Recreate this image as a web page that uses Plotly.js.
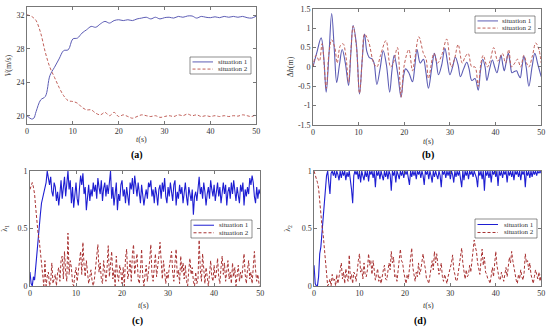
<!DOCTYPE html>
<html><head><meta charset="utf-8">
<script src="https://cdn.plot.ly/plotly-3.0.1.min.js"></script>
<style>html,body{margin:0;padding:0;background:#fff}#chart{width:550px;height:329px}</style>
</head><body><div id="chart"></div>
<script>
// ---- Panel (a): speed V (m/s)
const tA = [0,1,1.5,2,3,4,5,6,7,8,9,10,11,12,13,14,15,16,17,18,19,20,21,22,23,24,25,26,27,28,29,30,31,32,33,34,35,36,37,38,39,40,41,42,43,44,45,46,47,48,49,50];
const vA1 = [20.0,19.6,19.7,20.5,21.9,22.3,24.8,25.8,26.8,27.8,27.9,29.2,29.3,29.9,30.3,30.7,30.6,31.0,31.3,31.1,31.4,31.5,31.4,31.5,31.4,31.6,31.7,31.8,31.6,31.8,31.6,31.75,31.8,31.7,31.9,31.8,31.95,31.95,31.7,31.9,31.8,31.75,31.85,31.75,31.9,31.8,31.9,31.8,31.9,31.75,31.7,31.95];
const vA2 = [32.1,31.9,31.7,31.4,29.9,27.6,25.8,24.6,23.4,22.4,21.8,21.7,21.5,21.0,20.7,20.7,20.3,20.1,20.4,20.0,20.4,19.9,20.1,19.9,19.7,19.9,20.1,20.0,19.9,20.0,19.8,19.9,20.0,19.9,20.1,20.0,20.2,20.0,20.1,19.9,20.0,19.9,20.0,19.9,20.0,19.9,20.0,19.95,20.1,20.0,19.9,20.2];

// ---- Panel (b): altitude deviation Δh (m)
const tB1 = [0,0.8,1.8,2.4,2.9,3.5,4.1,4.7,5.2,5.8,6.4,7.1,7.8,8.3,8.8,9.5,10.2,10.8,11.3,11.8,12.3,13.0,13.4,14.0,14.7,15.4,16.1,16.8,17.3,17.8,18.6,19.3,19.9,20.3,21.0,21.8,22.3,22.8,23.5,24.2,24.7,25.3,26.0,26.6,27.0,27.5,28.2,28.9,29.5,30.0,30.6,31.2,31.8,32.3,33.0,33.7,34.2,34.8,35.5,36.2,36.7,37.2,37.7,38.1,38.7,39.3,39.8,40.3,40.8,41.2,41.6,41.9,42.3,42.8,43.2,43.6,44.1,44.6,45.0,45.4,45.8,46.2,46.7,47.3,48.0,48.6,49.3,50];
const hB1 = [0,0.35,0.75,0.2,-0.65,0.3,1.38,0.4,-0.4,0.05,0.45,0.1,-0.48,0.35,1.07,0.6,-0.7,0.2,0.85,0.4,0.25,0.2,0.1,-0.45,-0.05,0.42,0.05,-0.65,-0.1,0.3,-0.2,-0.78,-0.2,-0.05,-0.15,-0.38,0.0,0.45,0.1,0.2,-0.1,-0.55,-0.05,0.35,0.15,-0.2,0.05,0.48,0.1,-0.2,0.0,0.25,0.05,-0.25,-0.05,0.12,-0.05,-0.35,-0.3,-0.6,-0.1,0.2,0.0,-0.35,-0.05,0.18,0.0,-0.15,0.1,0.3,0.05,-0.1,0.1,0.35,0.1,-0.15,-0.12,-0.1,-0.2,-0.28,0.0,0.28,0.0,-0.5,0.0,0.35,0.05,-0.25];
const tB2 = [0,0.7,1.4,2.0,2.9,3.5,4.1,4.8,5.3,6.0,6.6,7.2,7.8,8.3,8.8,9.5,10.2,10.8,11.3,12.2,13.3,14.0,14.8,16.0,17.0,17.6,18.5,19.3,20.0,21.0,21.8,22.3,23.2,24.2,24.8,25.3,26.5,27.3,28.2,29.3,30.3,31.0,31.8,32.7,33.3,34.0,34.8,35.5,36.2,36.8,37.3,38.2,38.8,39.6,40.5,41.5,42.2,42.9,43.5,44.2,44.8,45.5,46.2,46.8,47.3,48.1,48.8,49.5,50];
const hB2 = [0,0.3,0.15,0.6,-0.55,0.35,0.7,0.5,0.1,0.55,0.6,0.3,-0.4,0.4,1.05,0.55,-0.68,0.2,0.85,0.65,0.1,0.0,0.3,0.68,0.0,0.1,0.5,-0.78,0.05,0.45,-0.1,0.2,0.78,0.35,0.2,-0.3,0.35,0.1,0.3,0.72,0.0,0.2,0.58,0.1,0.25,0.35,0.0,0.0,-0.5,0.1,0.3,0.0,0.15,0.5,0.15,0.35,0.1,0.45,0.0,0.1,0.2,0.0,0.3,0.1,0.0,0.3,0.62,0.45,0.1];

// ---- Panels (c),(d): sampled every DT seconds from t=0
const DT = 0.25;
const lamC1 = [0.12,0.02,0.0,0.08,0.05,0.18,0.3,0.42,0.5,0.62,0.72,0.76,0.8,0.84,0.9,1.0,0.94,0.88,0.95,0.82,0.78,0.9,0.86,0.74,0.82,0.7,0.8,0.92,0.76,0.85,0.95,0.78,0.88,1.0,0.84,0.92,0.72,0.86,0.68,0.82,0.9,0.76,0.7,0.85,0.96,0.88,0.98,0.8,0.86,0.66,0.78,0.88,0.74,0.84,0.78,0.9,0.82,0.88,0.76,0.94,0.86,0.8,0.92,0.74,0.85,0.9,0.78,0.88,0.8,0.92,1.0,0.76,0.86,0.7,0.84,0.9,0.66,0.8,0.74,0.88,0.92,0.78,0.84,0.72,0.86,0.8,0.7,0.9,0.84,0.94,0.8,0.96,0.86,0.78,0.9,0.82,0.72,0.88,0.8,0.7,0.78,0.84,0.76,0.9,0.86,0.92,0.78,0.84,0.72,0.86,0.8,0.7,0.84,0.88,0.76,0.9,0.82,0.94,0.78,0.72,0.86,0.78,0.9,0.8,0.74,0.88,0.92,0.7,0.82,0.76,0.88,0.8,0.86,0.72,0.84,0.9,0.78,0.7,0.86,0.8,0.74,0.84,0.62,0.78,0.82,0.74,0.88,0.95,0.8,0.86,0.76,0.9,0.82,0.7,0.8,0.86,0.76,0.92,0.84,0.78,0.88,0.74,0.82,0.9,0.78,0.86,0.72,0.84,0.9,0.8,0.88,0.7,0.82,0.86,0.76,0.9,0.8,0.92,0.84,0.74,0.86,0.8,0.72,0.88,0.82,0.9,0.7,0.84,0.78,0.86,0.8,0.94,0.88,0.96,0.9,0.78,0.72,0.86,0.76,0.84,0.8];
const lamC2 = [0.84,0.88,0.9,0.86,0.8,0.68,0.55,0.46,0.4,0.3,0.2,0.08,0.0,0.22,0.0,0.08,0.12,0.0,0.04,0.2,0.02,0.06,0.1,0.0,0.12,0.16,0.04,0.22,0.26,0.06,0.3,0.12,0.04,0.46,0.1,0.22,0.16,0.02,0.0,0.1,0.16,0.04,0.12,0.24,0.3,0.1,0.38,0.18,0.08,0.22,0.14,0.02,0.08,0.14,0.04,0.0,0.06,0.18,0.24,0.36,0.12,0.2,0.06,0.02,0.22,0.1,0.04,0.16,0.35,0.08,0.2,0.3,0.06,0.14,0.0,0.26,0.1,0.04,0.18,0.12,0.02,0.16,0.0,0.24,0.32,0.06,0.12,0.22,0.04,0.28,0.36,0.1,0.2,0.28,0.06,0.02,0.14,0.32,0.08,0.0,0.1,0.18,0.04,0.12,0.22,0.36,0.1,0.04,0.2,0.28,0.08,0.16,0.26,0.38,0.18,0.06,0.22,0.1,0.02,0.12,0.06,0.16,0.22,0.3,0.12,0.04,0.2,0.32,0.08,0.14,0.02,0.26,0.12,0.2,0.06,0.18,0.04,0.0,0.14,0.24,0.1,0.16,0.04,0.0,0.12,0.02,0.06,0.4,0.14,0.04,0.28,0.1,0.02,0.16,0.06,0.0,0.1,0.22,0.08,0.04,0.18,0.06,0.12,0.24,0.08,0.02,0.16,0.26,0.1,0.2,0.04,0.14,0.22,0.06,0.12,0.02,0.2,0.08,0.16,0.0,0.1,0.18,0.04,0.12,0.06,0.2,0.28,0.1,0.02,0.14,0.22,0.06,0.12,0.02,0.2,0.3,0.14,0.04,0.1,0.02,0.0];
const lamD1 = [0.18,0.02,0.0,0.0,0.08,0.28,0.34,0.46,0.6,0.74,0.86,0.96,1.0,0.92,0.8,0.98,1.0,0.96,1.0,0.94,1.0,0.97,0.92,1.0,0.94,1.0,0.96,1.0,0.92,0.99,0.95,1.0,0.94,0.84,0.72,0.96,1.0,0.97,1.0,0.93,1.0,0.9,1.0,0.96,0.92,1.0,0.95,1.0,0.91,1.0,0.97,1.0,0.94,1.0,0.86,1.0,0.96,1.0,0.93,1.0,0.97,0.92,1.0,0.95,1.0,0.93,1.0,0.97,0.83,1.0,0.96,1.0,0.9,1.0,0.97,0.93,1.0,0.96,1.0,0.94,1.0,0.97,1.0,0.92,0.88,1.0,0.95,1.0,0.96,1.0,0.93,1.0,0.97,1.0,0.94,1.0,0.96,0.88,1.0,0.97,1.0,0.93,1.0,0.96,0.9,1.0,0.95,1.0,0.97,0.93,1.0,0.96,0.86,1.0,0.97,1.0,0.94,1.0,0.96,1.0,0.93,1.0,0.97,0.9,1.0,0.95,1.0,0.96,1.0,0.92,0.86,1.0,0.92,1.0,0.96,1.0,0.93,1.0,0.97,1.0,0.95,1.0,0.97,0.94,0.86,1.0,0.96,1.0,0.93,1.0,0.83,1.0,0.96,1.0,0.94,1.0,0.9,1.0,0.97,1.0,0.95,1.0,0.87,1.0,0.96,1.0,0.94,1.0,0.97,1.0,0.9,1.0,0.96,1.0,0.95,1.0,0.92,1.0,0.97,1.0,0.95,1.0,0.92,1.0,0.97,1.0,0.86,1.0,0.96,1.0,0.94,1.0,0.95,1.0,0.97,1.0,0.96,1.0,0.98,1.0,0.98];
const lamD2 = [1.0,0.97,0.95,0.9,0.85,0.72,0.6,0.52,0.45,0.32,0.25,0.1,0.0,0.02,0.06,0.0,0.1,0.04,0.06,0.0,0.1,0.02,0.08,0.14,0.2,0.06,0.12,0.02,0.15,0.08,0.04,0.27,0.05,0.1,0.02,0.12,0.1,0.04,0.16,0.22,0.28,0.12,0.15,0.06,0.2,0.1,0.08,0.14,0.28,0.18,0.22,0.1,0.22,0.12,0.05,0.1,0.15,0.04,0.08,0.02,0.1,0.14,0.18,0.06,0.05,0.12,0.2,0.14,0.3,0.2,0.25,0.08,0.1,0.04,0.16,0.24,0.32,0.22,0.2,0.12,0.08,0.02,0.1,0.06,0.15,0.22,0.33,0.16,0.1,0.04,0.12,0.08,0.2,0.1,0.14,0.2,0.28,0.2,0.15,0.06,0.05,0.02,0.1,0.16,0.22,0.14,0.3,0.2,0.28,0.18,0.1,0.14,0.2,0.08,0.04,0.1,0.05,0.02,0.08,0.12,0.15,0.2,0.27,0.14,0.1,0.04,0.05,0.12,0.2,0.26,0.33,0.2,0.12,0.06,0.14,0.08,0.1,0.18,0.12,0.22,0.3,0.4,0.34,0.3,0.2,0.14,0.1,0.22,0.32,0.18,0.25,0.12,0.1,0.06,0.05,0.02,0.1,0.16,0.08,0.2,0.3,0.18,0.1,0.06,0.05,0.12,0.08,0.04,0.1,0.16,0.08,0.18,0.25,0.2,0.3,0.22,0.15,0.1,0.05,0.02,0.1,0.06,0.14,0.08,0.05,0.12,0.28,0.2,0.22,0.14,0.2,0.1,0.05,0.02,0.08,0.14,0.1,0.06,0.12,0.04,0.1];

const seriesNames = ['situation 1','situation 2'];
const xTickVals = [0,10,20,30,40,50];
const xTitle = '<i>t</i>(s)';

const timeOf = arr => arr.map((_, i) => i * DT);

const FONT = 'Liberation Serif';
const blueA = '#5c5cb4', redA = '#c0605a';
const blueC = '#1e1ed2', redC = '#a83232';
const DASH = '3px,2px';

const traces = [
  {x:tA, y:vA1, name:seriesNames[0], xaxis:'x', yaxis:'y', line:{color:blueA, width:1, shape:'spline'}, mode:'lines'},
  {x:tA, y:vA2, name:seriesNames[1], xaxis:'x', yaxis:'y', line:{color:redA, width:1, dash:DASH, shape:'spline'}, mode:'lines'},
  {x:tB1, y:hB1, name:seriesNames[0], xaxis:'x2', yaxis:'y2', line:{color:blueA, width:1.1, shape:'spline'}, mode:'lines'},
  {x:tB2, y:hB2, name:seriesNames[1], xaxis:'x2', yaxis:'y2', line:{color:redA, width:1, dash:DASH, shape:'spline'}, mode:'lines'},
  {x:timeOf(lamC1), y:lamC1, name:seriesNames[0], xaxis:'x3', yaxis:'y3', line:{color:blueC, width:1.1}, mode:'lines'},
  {x:timeOf(lamC2), y:lamC2, name:seriesNames[1], xaxis:'x3', yaxis:'y3', line:{color:redC, width:1, dash:DASH}, mode:'lines'},
  {x:timeOf(lamD1), y:lamD1, name:seriesNames[0], xaxis:'x4', yaxis:'y4', line:{color:blueC, width:1.1}, mode:'lines'},
  {x:timeOf(lamD2), y:lamD2, name:seriesNames[1], xaxis:'x4', yaxis:'y4', line:{color:redC, width:1, dash:DASH}, mode:'lines'}
];

const axBase = {
  showline:true, linecolor:'#555', linewidth:0.8, mirror:'ticks',
  ticks:'inside', ticklen:3, tickwidth:0.8, tickcolor:'#555',
  showgrid:false, zeroline:false, fixedrange:true,
  tickfont:{family:FONT, size:8, color:'#333'}
};
function xAx(domain, anchor){
  return Object.assign({}, axBase, {domain, anchor, range:[0,50], tickvals:xTickVals});
}
function yAx(domain, anchor, range, tickvals, ticktext, title, standoff){
  return Object.assign({}, axBase, {domain, anchor, range, tickvals, ticktext,
    title:{text:title, font:{family:FONT, size:8, color:'#333'}, standoff}});
}

// Compact legends (MATLAB style) built from shapes + text; box given in pixels
const W = 550, H = 329;
const px = x => x / W, py = y => 1 - y / H;
const shapes = [], annotations = [];
function addLegend(x0, y0, x1, y1, c1, c2){
  shapes.push({type:'rect', xref:'paper', yref:'paper', x0:px(x0), x1:px(x1), y0:py(y0), y1:py(y1),
    line:{color:'#444', width:0.6}, fillcolor:'#fff', layer:'above'});
  const rows = [y0 + (y1 - y0) * 0.29, y0 + (y1 - y0) * 0.71];
  const cols = [c1, c2];
  rows.forEach((ry, i) => {
    shapes.push({type:'line', xref:'paper', yref:'paper', x0:px(x0 + 2.5), x1:px(x0 + 23), y0:py(ry), y1:py(ry),
      line:{color:cols[i].color, width:1, dash:cols[i].dash || 'solid'}, layer:'above'});
    annotations.push({text:seriesNames[i], xref:'paper', yref:'paper', x:px(x1 - 1.5), y:py(ry),
      xanchor:'right', yanchor:'middle', showarrow:false, font:{family:FONT, size:7, color:'#333'}});
  });
}
addLegend(190, 57, 251, 74, {color:blueA}, {color:redA, dash:DASH});
addLegend(475, 16, 535, 33, {color:blueA}, {color:redA, dash:DASH});
addLegend(191, 220, 252, 238, {color:blueC}, {color:redC, dash:DASH});
addLegend(475, 219, 537, 238, {color:blueC}, {color:redC, dash:DASH});

// x-axis titles placed below each panel's tick labels
[[141,140],[428,141],[143,305],[428,305]].forEach(([x,y]) => {
  annotations.push({text:xTitle, xref:'paper', yref:'paper', x:px(x), y:py(y), showarrow:false,
    xanchor:'center', yanchor:'middle', font:{family:FONT, size:8, color:'#333'}});
});

[['(a)',137,155],['(b)',428,155],['(c)',137,321],['(d)',420,321]].forEach(([t,x,y]) => {
  annotations.push({text:'<b>'+t+'</b>', xref:'paper', yref:'paper', x:px(x), y:py(y), showarrow:false,
    xanchor:'center', yanchor:'middle', font:{family:FONT, size:10, color:'#000'}});
});

const layout = {
  width:W, height:H, margin:{l:0,r:0,t:0,b:0}, paper_bgcolor:'#fff', plot_bgcolor:'#fff',
  showlegend:false,
  xaxis: xAx([0.049,0.466],'y'),
  yaxis: yAx([0.623,0.978],'x',[19,33],[20,24,28,32],['20','24','28','32'],'<i>V</i>(m/s)',3),
  xaxis2: xAx([0.569,0.984],'y2'),
  yaxis2: yAx([0.620,0.973],'x2',[-1.5,1.5],[-1.5,-1,-0.5,0,0.5,1,1.5],['-1.5','-1','-0.5','0','0.5','1','1.5'],'Δ<i>h</i>(m)',2),
  xaxis3: xAx([0.0545,0.473],'y3'),
  yaxis3: yAx([0.131,0.480],'x3',[0,1],[0,0.5,1],['0','0.5','1'],'λ<sub>1</sub>',9),
  xaxis4: xAx([0.571,0.984],'y4'),
  yaxis4: yAx([0.131,0.480],'x4',[0,1],[0,0.5,1],['0','0.5','1'],'λ<sub>2</sub>',9),
  shapes, annotations
};

Plotly.newPlot('chart', traces, layout, {staticPlot:true, displayModeBar:false});
</script>
</body></html>
